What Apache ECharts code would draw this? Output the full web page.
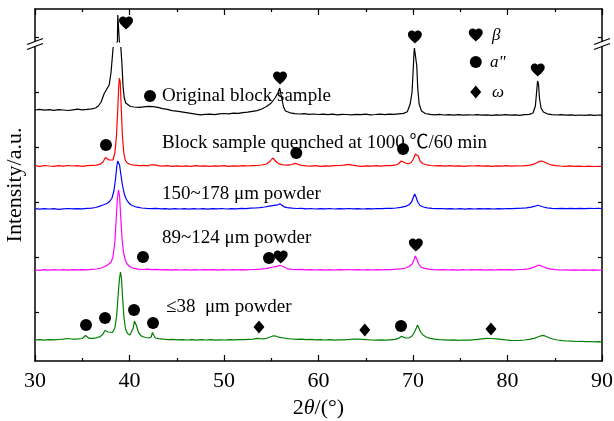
<!DOCTYPE html>
<html>
<head>
<meta charset="utf-8">
<script src="https://cdn.jsdelivr.net/npm/echarts@6/dist/echarts.min.js"></script>
<style>
html, body { margin: 0; padding: 0; background: #fff; }
#chart { width: 614px; height: 421px; }
</style>
</head>
<body>
<div id="chart"></div>
<script>
// 2theta range and ticks
var xMin = 30, xMax = 90, xStep = 10;
var yMax = 352;
var yTicks = [49, 104, 159, 214, 269, 324];

var names = ['Original block sample', 'Block sample quenched at 1000 ℃/60 min', '150~178 μm powder', '89~124 μm powder', '≤38  μm powder'];
var colors = ['#000000', '#ff0000', '#0000ff', '#ff00ff', '#008000'];
var offsets = [249, 195, 152, 91, 21];		// vertical shift of each pattern

// [2theta, intensity]
var original = [[30,2],[30.5,2.6],[31,1.8],[31.5,2.3],[32,1.6],[32.5,2.4],[33,2],[33.5,1.5],[34,2.2],[34.5,2.8],[35,2.1],[35.5,2.6],[36,3.2],[36.4,4],[36.7,6],[37,10],[37.3,18],[37.6,23],[37.85,27],[38.05,40],[38.2,57],[38.27,65],[38.72,70],[38.76,97],[38.88,97],[38.93,70],[39.08,65],[39.2,48],[39.32,25],[39.45,14],[39.6,9],[39.8,7],[40.1,5.5],[40.5,5],[41,4.6],[41.5,5.2],[42,5.6],[42.5,5.4],[43,4.6],[43.5,3.4],[44,2.6],[44.5,1.4],[45,0.8],[45.5,0.2],[46,-0.6],[46.5,-1.4],[47,-2.2],[47.5,-2.8],[48,-2.4],[48.5,-2.1],[49,-2.6],[49.5,-1.8],[50,-1.5],[50.5,-1.9],[51,-1.2],[51.5,-1.4],[52,-0.6],[52.5,-0.2],[53,0.6],[53.5,1.4],[54,3],[54.5,5.5],[55,9],[55.4,14],[55.7,19],[55.9,24],[56.02,22],[56.15,12],[56.3,5],[56.5,1],[57,-0.8],[57.5,-1.6],[58,-2],[58.5,-1.7],[59,-2.3],[59.5,-2],[60,-2.5],[60.5,-2.1],[61,-2.6],[61.5,-2.2],[62,-2.8],[62.5,-2.3],[63,-2.5],[63.5,-2.9],[64,-2.4],[64.5,-2.7],[65,-2.2],[65.5,-2.8],[66,-2.5],[66.5,-2.1],[67,-2.6],[67.5,-2.2],[68,-2.4],[68.5,-1.9],[69,-1.4],[69.4,0.2],[69.7,8],[69.9,20],[70.02,42],[70.1,58],[70.15,64],[70.33,64],[70.4,46],[70.5,24],[70.65,8],[70.9,1],[71.3,-1.5],[71.8,-2.4],[72.3,-2.8],[72.8,-2.4],[73.3,-3],[73.8,-2.6],[74.3,-3.1],[74.8,-2.7],[75.3,-3.2],[75.8,-2.8],[76.3,-3],[76.8,-2.6],[77.3,-3.2],[77.8,-2.9],[78.3,-3.3],[78.8,-2.8],[79.3,-3.1],[79.8,-2.7],[80.3,-3.2],[80.8,-2.9],[81.3,-3.3],[81.8,-2.7],[82.3,-2.4],[82.7,-1],[82.95,6],[83.08,20],[83.18,31],[83.28,28],[83.38,14],[83.55,4],[83.8,0],[84.2,-1.8],[84.7,-2.6],[85.2,-3],[85.7,-2.7],[86.2,-3.2],[86.7,-2.8],[87.2,-3.3],[87.7,-3],[88.2,-3.4],[88.7,-2.9],[89.2,-3.3],[89.6,-3],[90,-3.2]];

var quenched = [[30,0.4],[30.5,-0.3],[31,0.5],[31.5,0],[32,-0.4],[32.5,0.3],[33,-0.2],[33.5,0.5],[34,0],[34.5,0.4],[35,-0.3],[35.5,0.3],[36,0.6],[36.5,0.8],[36.9,1.8],[37.2,4],[37.45,8.5],[37.65,9],[37.85,6],[38.05,4.5],[38.25,6],[38.45,13],[38.62,30],[38.75,55],[38.85,78],[38.93,88],[39.02,84],[39.12,60],[39.25,30],[39.4,13],[39.55,6],[39.75,3],[40.1,1.5],[40.5,0.8],[41,0.3],[41.5,0.6],[42,0.2],[42.3,1.2],[42.5,3],[42.7,1.2],[43,0.4],[43.5,-0.2],[44,0.3],[44.5,-0.3],[45,0.2],[45.5,-0.4],[46,0.1],[46.5,-0.3],[47,0.3],[47.5,-0.2],[48,0.2],[48.5,-0.4],[49,0.1],[49.5,-0.2],[50,0.3],[50.5,-0.3],[51,0.2],[51.5,-0.2],[52,0.3],[52.5,0],[53,0.4],[53.5,0.5],[54,1],[54.5,2],[54.9,5],[55.15,8],[55.35,7],[55.6,3.5],[55.9,1.8],[56.3,1],[56.8,0.8],[57.2,1.5],[57.5,2.6],[57.8,1.8],[58.2,0.6],[58.7,0.2],[59.2,-0.2],[59.7,0.3],[60.2,-0.3],[60.7,0.2],[61.2,-0.2],[61.7,0.3],[62.2,0.5],[62.7,0.8],[63.2,1.6],[63.6,0.8],[64.1,0.2],[64.6,-0.3],[65.1,0.2],[65.6,-0.2],[66.1,0.3],[66.6,-0.1],[67.1,0.3],[67.6,0.4],[68.1,0.8],[68.45,2],[68.75,5],[68.95,4.5],[69.2,3],[69.5,2.2],[69.8,3.5],[70.05,7],[70.25,12],[70.4,14],[70.55,10],[70.75,5],[71,2.5],[71.4,1.2],[71.9,0.5],[72.4,0.1],[72.9,0.4],[73.4,-0.2],[73.9,0.3],[74.4,-0.1],[74.9,0.2],[75.4,-0.3],[75.9,0.2],[76.4,0],[76.9,0.3],[77.4,-0.2],[77.9,0.2],[78.4,-0.3],[78.9,0.1],[79.4,-0.2],[79.9,0.3],[80.4,-0.1],[80.9,0.2],[81.4,0],[81.9,0.4],[82.4,0.8],[82.8,1.8],[83.1,3.2],[83.4,4.6],[83.65,5],[83.9,4],[84.2,2.5],[84.6,1.2],[85.1,0.4],[85.6,0],[86.1,-0.3],[86.6,0.1],[87.1,-0.4],[87.6,-0.1],[88.1,-0.5],[88.6,-0.2],[89.1,-0.5],[89.6,-0.3],[90,-0.5]];

var powder150 = [[30,0.3],[30.5,-0.2],[31,0.4],[31.5,0],[32,0.3],[32.5,-0.3],[33,0.2],[33.5,0.5],[34,0.1],[34.5,0.4],[35,0.2],[35.5,0.6],[36,0.9],[36.4,1.5],[36.8,2.6],[37.2,4],[37.6,5.5],[37.9,7.5],[38.15,11],[38.35,18],[38.52,30],[38.65,42],[38.75,48],[38.85,49],[38.95,44],[39.08,35],[39.25,24],[39.45,15],[39.65,10],[39.85,7],[40.1,4.5],[40.4,3],[40.8,1.8],[41.3,1],[41.8,0.6],[42.3,0.3],[42.8,0.6],[43.3,0.1],[43.8,0.4],[44.3,-0.2],[44.8,0.3],[45.3,0],[45.8,0.4],[46.3,-0.1],[46.8,0.3],[47.3,0],[47.8,0.4],[48.3,-0.1],[48.8,0.3],[49.3,0.1],[49.8,0.5],[50.3,0],[50.8,0.4],[51.3,0.2],[51.8,0.6],[52.3,0.4],[52.8,0.8],[53.3,1],[53.8,1.4],[54.3,2],[54.8,2.8],[55.3,3.6],[55.7,4.2],[55.92,5.2],[56.1,4],[56.35,2.2],[56.7,1.4],[57.2,0.9],[57.7,0.5],[58.2,0.7],[58.7,0.2],[59.2,0.5],[59.7,0],[60.2,0.4],[60.7,0.1],[61.2,0.5],[61.7,0],[62.2,0.4],[62.7,0.2],[63.2,0.5],[63.7,0.1],[64.2,0.4],[64.7,0],[65.2,0.4],[65.7,0.1],[66.2,0.5],[66.7,0.3],[67.2,0.6],[67.7,0.7],[68.2,1],[68.7,1.6],[69.2,2.6],[69.55,4],[69.85,7],[70.05,12],[70.18,15],[70.32,12],[70.5,7],[70.75,3.5],[71.1,2],[71.5,1.2],[72,0.6],[72.5,0.3],[73,0.5],[73.5,0.1],[74,0.4],[74.5,0],[75,0.3],[75.5,-0.1],[76,0.3],[76.5,0],[77,0.4],[77.5,0.1],[78,0.3],[78.5,0],[79,0.4],[79.5,0.2],[80,0.5],[80.5,0.3],[81,0.6],[81.5,0.8],[82,1.2],[82.5,1.8],[82.9,2.8],[83.2,3.8],[83.45,3],[83.8,2],[84.2,1.2],[84.7,0.7],[85.2,0.4],[85.7,0.6],[86.2,0.3],[86.7,0.6],[87.2,0.4],[87.7,0.7],[88.2,0.4],[88.7,0.6],[89.2,0.5],[89.6,0.7],[90,0.5]];

var powder89 = [[30,0.2],[30.5,-0.3],[31,0.3],[31.5,-0.1],[32,0.3],[32.5,0],[33,0.4],[33.5,-0.1],[34,0.3],[34.5,0.1],[35,0.4],[35.5,0.2],[36,0.6],[36.5,1],[37,2],[37.4,3.5],[37.75,5.5],[38.05,8],[38.25,13],[38.45,28],[38.6,52],[38.72,72],[38.84,80],[38.95,74],[39.06,55],[39.2,33],[39.36,18],[39.55,10],[39.75,6],[40,3.5],[40.4,1.8],[40.9,0.9],[41.4,0.5],[41.9,0.8],[42.4,0.3],[42.9,0.6],[43.4,0.1],[43.9,0.4],[44.4,-0.1],[44.9,0.3],[45.4,0],[45.9,0.3],[46.4,-0.1],[46.9,0.3],[47.4,0],[47.9,0.4],[48.4,0.1],[48.9,0.3],[49.4,-0.1],[49.9,0.3],[50.4,0],[50.9,0.4],[51.4,0.1],[51.9,0.4],[52.4,0.2],[52.9,0.5],[53.4,0.6],[53.9,0.9],[54.4,1.4],[54.8,2.2],[55.2,3],[55.6,3.6],[55.85,4.5],[56.02,6.5],[56.15,4],[56.35,2],[56.7,1.2],[57.2,0.7],[57.7,0.3],[58.2,0.6],[58.7,0.1],[59.2,0.4],[59.7,0],[60.2,0.3],[60.7,-0.1],[61.2,0.3],[61.7,0],[62.2,0.4],[62.7,0.1],[63.2,0.5],[63.7,0.2],[64.2,0.4],[64.7,0],[65.2,0.3],[65.7,0],[66.2,0.4],[66.7,0.2],[67.2,0.5],[67.7,0.4],[68.2,0.8],[68.7,1.2],[69.2,2],[69.6,3.5],[69.9,6],[70.1,10],[70.25,14],[70.4,11],[70.6,6],[70.85,3],[71.2,1.6],[71.7,0.8],[72.2,0.4],[72.7,0.1],[73.2,0.4],[73.7,0],[74.2,0.3],[74.7,-0.1],[75.2,0.3],[75.7,0],[76.2,0.4],[76.7,0.1],[77.2,0.3],[77.7,-0.1],[78.2,0.3],[78.7,0],[79.2,0.4],[79.7,0.1],[80.2,0.3],[80.7,0.2],[81.2,0.5],[81.7,0.7],[82.2,1.2],[82.6,2.2],[83,3.6],[83.3,4.8],[83.55,4.2],[83.85,3],[84.2,1.6],[84.6,0.8],[85.1,0.3],[85.6,0],[86.1,0.2],[86.6,-0.2],[87.1,0.2],[87.6,-0.1],[88.1,0.1],[88.6,-0.2],[89.1,0.1],[89.6,-0.2],[90,0]];

var powder38 = [[30,0],[30.5,0.3],[31,-0.2],[31.5,0.4],[32,0.1],[32.5,0.5],[33,0.9],[33.4,1.5],[33.8,1],[34.2,0.8],[34.6,1.1],[35,1.5],[35.2,2.8],[35.35,4.5],[35.5,3.2],[35.75,1.6],[36.1,1.6],[36.5,2.2],[36.9,3.4],[37.2,6],[37.4,9.5],[37.55,10.5],[37.75,8],[37.95,7],[38.2,7.5],[38.45,12],[38.65,25],[38.82,48],[38.95,62],[39.05,68],[39.15,62],[39.27,42],[39.42,22],[39.58,11],[39.78,6.5],[40.05,5],[40.25,6.5],[40.4,12],[40.52,19],[40.62,20],[40.75,14],[40.95,7.5],[41.25,4],[41.65,2.5],[42.05,2],[42.3,3],[42.43,7.5],[42.55,5],[42.75,2],[43.1,1.3],[43.6,0.8],[44.1,0.4],[44.6,0.6],[45.1,0.2],[45.6,0.4],[46.1,0],[46.6,0.3],[47.1,-0.1],[47.6,0.3],[48.1,0],[48.6,0.3],[49.1,-0.1],[49.6,0.2],[50.1,0],[50.6,0.3],[51.1,0.1],[51.6,0.4],[52.1,0.3],[52.6,0.6],[53.1,0.9],[53.45,1.6],[53.62,2.6],[53.8,1.4],[54.2,1.2],[54.6,2],[54.95,3.2],[55.25,4.2],[55.5,3.8],[55.8,2.8],[56.05,2.4],[56.2,3.4],[56.35,2],[56.7,1.4],[57.2,1],[57.7,0.6],[58.2,0.8],[58.7,0.4],[59.2,0.6],[59.7,0.2],[60.2,0.4],[60.7,0],[61.2,0.3],[61.7,-0.1],[62.2,0.2],[62.7,0.1],[63.2,0.5],[63.7,0.8],[64.2,1],[64.6,0.7],[65.1,0.3],[65.6,0],[66.1,-0.2],[66.6,0.1],[67.1,-0.2],[67.6,0.2],[68.1,0.6],[68.45,1.6],[68.75,3.6],[68.95,3],[69.25,2],[69.6,2.2],[69.9,4],[70.15,8],[70.35,12],[70.48,15],[70.62,12],[70.8,8],[71.05,5],[71.4,3],[71.8,1.6],[72.3,0.8],[72.8,0.3],[73.3,0.1],[73.8,-0.2],[74.3,0.1],[74.8,-0.3],[75.3,0],[75.8,-0.2],[76.3,0.2],[76.8,0.6],[77.3,1.2],[77.8,1.6],[78.3,1.5],[78.8,1.1],[79.3,0.6],[79.8,0.1],[80.3,-0.3],[80.8,-0.5],[81.3,-0.3],[81.8,0],[82.3,0.6],[82.8,1.6],[83.2,3],[83.55,4.2],[83.8,4.6],[84.05,3.8],[84.4,2.2],[84.8,1],[85.3,0],[85.8,-0.6],[86.3,-1],[86.8,-1.2],[87.3,-1.5],[87.8,-1.3],[88.3,-1.7],[88.8,-1.5],[89.3,-1.9],[89.7,-1.7],[90,-2]];

var patterns = [original, quenched, powder150, powder89, powder38];

// phase markers [2theta, height on plot scale]
var betaMarks = [[39.63, 338], [55.93, 283], [70.2, 324], [83.2, 291], [56.0, 104], [70.3, 116]];
var alphaMarks = [[42.17, 265], [37.51, 216], [57.65, 208], [68.95, 212], [41.43, 104], [54.76, 103], [35.4, 36], [37.41, 43], [40.48, 51], [42.49, 38], [68.73, 35]];
var omegaMarks = [[53.7, 34], [64.9, 31], [78.25, 32]];
var keyMarks = { beta: [76.64, 326], alpha: [76.64, 299], omega: [76.64, 269] };

var serif = '"Liberation Serif", "Times New Roman", "Noto Sans CJK SC", serif';
var heart = 'path://M12,21.35L10.55,20.03C5.4,15.36 2,12.28 2,8.5C2,5.42 4.42,3 7.5,3C9.24,3 10.91,3.81 12,5.09C13.09,3.81 14.76,3 16.5,3C19.58,3 22,5.42 22,8.5C22,12.28 18.6,15.36 13.45,20.04L12,21.35Z';

var chart = echarts.init(document.getElementById('chart'));

var series = patterns.map(function (p, i) {
	return {
		name: names[i],
		type: 'line',
		showSymbol: false,
		lineStyle: { color: colors[i], width: 1.2 },
		data: p.map(function (d) { return [d[0], d[1] + offsets[i]]; }),
		z: 2
	};
});

function markSeries(data, symbol, size) {
	return {
		type: 'scatter',
		symbol: symbol,
		symbolSize: size,
		itemStyle: { color: '#000', opacity: 1 },
		data: data,
		z: 5
	};
}
series.push(markSeries(betaMarks.concat([keyMarks.beta]), heart, [14, 13]));
series.push(markSeries(alphaMarks.concat([keyMarks.alpha]), 'circle', 12));
series.push(markSeries(omegaMarks.concat([keyMarks.omega]), 'diamond', [11, 13]));

var axisLine = { onZero: false, lineStyle: { color: '#000', width: 1.5 } };

function label(text, x, y) {
	return {
		type: 'text', z: 10,
		style: { text: text, x: x, y: y, fontSize: 19, fontFamily: serif, fill: '#000', verticalAlign: 'middle' }
	};
}
function keyText(text, x, y) {
	return {
		type: 'text', z: 10,
		style: { text: text, x: x, y: y, fontSize: 17, fontStyle: 'italic', fontFamily: serif, fill: '#000', verticalAlign: 'middle' }
	};
}
function breakMark(cx, cy) {
	return [
		{ type: 'rect', z: 20, shape: { x: cx - 3, y: cy - 2.5, width: 6, height: 5 }, style: { fill: '#fff' } },
		{ type: 'line', z: 21, shape: { x1: cx - 8, y1: cy + 5.5, x2: cx + 8, y2: cy - 0.5 }, style: { stroke: '#000', lineWidth: 1.3 } },
		{ type: 'line', z: 21, shape: { x1: cx - 8, y1: cy + 0.5, x2: cx + 8, y2: cy - 5.5 }, style: { stroke: '#000', lineWidth: 1.3 } }
	];
}

var graphics = [
	label(names[0], 162, 96),
	label(names[1], 162, 143),
	label(names[2], 162, 194),
	label(names[3], 162, 238),
	label(names[4], 166, 307),
	keyText('β', 492, 36),
	keyText('a"', 490, 63),
	keyText('ω', 492, 93),
	// gap in the clipped main peak of the original sample
	{ type: 'rect', z: 15, shape: { x: 108, y: 42.5, width: 20, height: 4.5 }, style: { fill: '#fff' } }
].concat(breakMark(35, 44), breakMark(602, 44));

chart.setOption({
	animation: false,
	backgroundColor: '#fff',
	grid: { left: 35, right: 12, top: 9, bottom: 60, containLabel: false, outerBoundsMode: 'none' },
	xAxis: [{
		type: 'value', position: 'bottom', min: xMin, max: xMax, interval: xStep,
		axisLine: axisLine,
		axisTick: { inside: true, length: 6, lineStyle: { color: '#000', width: 1.2 } },
		minorTick: { show: true, splitNumber: 2, length: 3, lineStyle: { color: '#000', width: 1.2 } },
		axisLabel: { color: '#000', fontSize: 22, fontFamily: serif, margin: 9 },
		splitLine: { show: false },
		name: '2{i|θ}/(°)', nameLocation: 'middle', nameGap: 34,
		nameTextStyle: { color: '#000', fontSize: 22, fontFamily: serif, rich: { i: { fontSize: 22, fontStyle: 'italic', fontFamily: serif } } }
	}, {
		type: 'value', position: 'top', min: xMin, max: xMax, interval: xStep,
		axisLine: axisLine,
		axisTick: { inside: true, length: 6, lineStyle: { color: '#000', width: 1.2 } },
		minorTick: { show: true, splitNumber: 2, length: 3, lineStyle: { color: '#000', width: 1.2 } },
		axisLabel: { show: false },
		splitLine: { show: false }
	}],
	yAxis: [{
		type: 'value', position: 'left', min: 0, max: yMax,
		axisLine: axisLine,
		axisTick: { inside: true, length: 4, customValues: yTicks, lineStyle: { color: '#000', width: 1.2 } },
		axisLabel: { show: false },
		splitLine: { show: false },
		name: 'Intensity/a.u.', nameLocation: 'middle', nameGap: 9,
		nameTextStyle: { color: '#000', fontSize: 22, fontFamily: serif }
	}, {
		type: 'value', position: 'right', min: 0, max: yMax,
		axisLine: axisLine,
		axisTick: { inside: true, length: 4, customValues: yTicks, lineStyle: { color: '#000', width: 1.2 } },
		axisLabel: { show: false },
		splitLine: { show: false }
	}],
	series: series,
	graphic: graphics
});
</script>
</body>
</html>
